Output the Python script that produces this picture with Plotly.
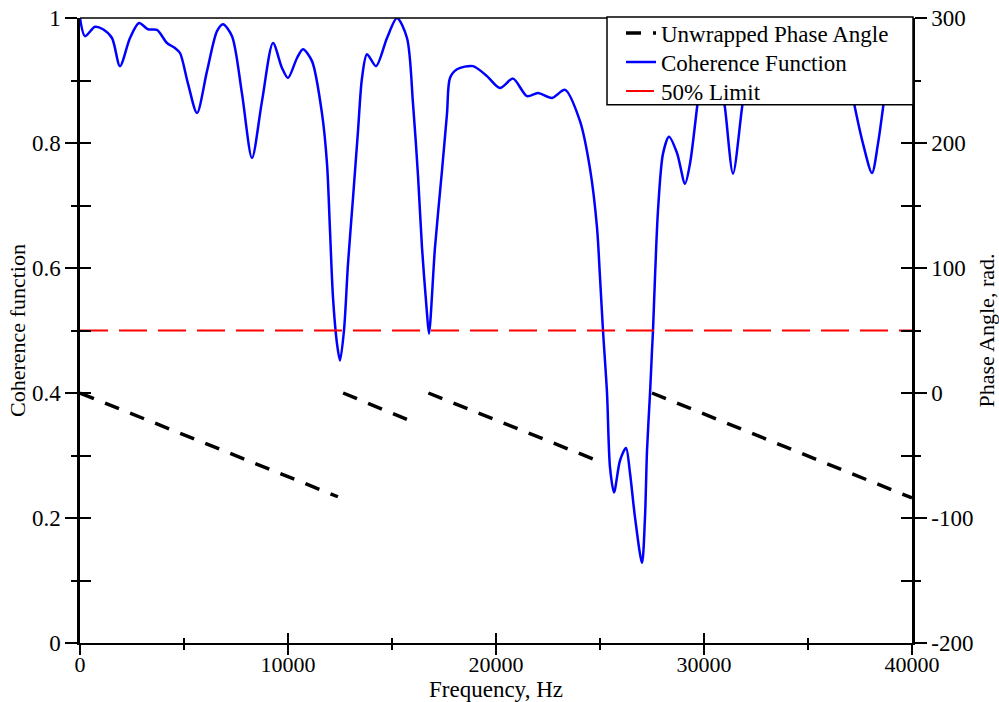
import plotly.graph_objects as go

# ---- data ----
coh_freq = [0, 240, 721, 1106, 1538, 1923, 2404, 2837, 3269, 3702, 4183, 4567, 4808, 5192,
            5625, 6106, 6587, 6875, 7308, 7788, 8269, 8750, 9279, 9712, 10000, 10433, 10721,
            11154, 11635, 11875, 12019, 12163, 12356, 12500, 12692, 12885, 13125, 13365,
            13558, 13798, 14231, 14760, 15240, 15721, 16010, 16250, 16442, 16683, 16779,
            17067, 17404, 17644, 17788, 18125, 18894, 19567, 20192, 20817, 21490, 22019,
            22692, 23317, 24038, 24519, 24856, 25000, 25144, 25337, 25481, 25673, 25962,
            26250, 26442, 26683, 27019, 27163, 27260, 27404, 27500, 27548, 27644, 27788,
            28029, 28317, 28702, 29087, 29327, 29663, 30000, 30337, 30673, 31010, 31394,
            31827, 32212, 33173, 34615, 35577, 36779, 37260, 37644, 38077, 38365, 38606,
            38942, 39423, 40000]
coh_vals = [1.000, 0.971, 0.986, 0.982, 0.968, 0.923, 0.968, 0.992, 0.982, 0.981, 0.960, 0.952,
            0.944, 0.895, 0.848, 0.915, 0.979, 0.990, 0.971, 0.879, 0.776, 0.867, 0.960, 0.920,
            0.904, 0.936, 0.950, 0.931, 0.847, 0.767, 0.660, 0.553, 0.479, 0.452, 0.500, 0.607,
            0.712, 0.819, 0.904, 0.942, 0.923, 0.968, 1.000, 0.968, 0.863, 0.748, 0.633, 0.527,
            0.495, 0.633, 0.756, 0.847, 0.904, 0.918, 0.923, 0.907, 0.888, 0.903, 0.875, 0.880,
            0.872, 0.885, 0.835, 0.759, 0.665, 0.585, 0.500, 0.400, 0.281, 0.241, 0.292, 0.312,
            0.272, 0.201, 0.128, 0.201, 0.308, 0.399, 0.468, 0.500, 0.585, 0.692, 0.783, 0.810,
            0.784, 0.735, 0.767, 0.856, 0.947, 0.971, 0.931, 0.856, 0.751, 0.856, 0.947, 0.979,
            0.955, 0.979, 0.939, 0.856, 0.799, 0.752, 0.799, 0.856, 0.939, 0.971, 0.963]

phase_freq = [0, 12400, None, 12650, 16000, None, 16750, 25150, None, 27500, 40000]
phase_vals = [0, -83, None, 0, -23, None, 0, -56, None, 0, -84]

limit_freq = [0, 40000]
limit_vals = [0.5, 0.5]

x_ticks = [0, 10000, 20000, 30000, 40000]
x_ticktext = ["0", "10000", "20000", "30000", "40000"]
y_ticks = [0, 0.2, 0.4, 0.6, 0.8, 1]
y_ticktext = ["0", "0.2", "0.4", "0.6", "0.8", "1"]
y2_ticks = [-200, -100, 0, 100, 200, 300]
y2_ticktext = ["-200", "-100", "0", "100", "200", "300"]

FONT = "Liberation Serif"

fig = go.Figure()
fig.add_trace(go.Scatter(x=phase_freq, y=phase_vals, yaxis="y2", mode="lines",
                         name="Unwrapped Phase Angle", connectgaps=False, legend="legend",
                         line=dict(color="black", width=3.5, dash="15px,12px")))
fig.add_trace(go.Scatter(x=coh_freq, y=coh_vals, mode="lines", name="Coherence Function",
                         legend="legend2",
                         line=dict(color="#0000ff", width=2.5, shape="spline", smoothing=0.8)))
fig.add_trace(go.Scatter(x=limit_freq, y=limit_vals, mode="lines", name="50% Limit",
                         legend="legend3",
                         line=dict(color="#ff0000", width=2, dash="28px,11px")))
# dummy traces for the inner halves of the crossing ticks
fig.add_trace(go.Scatter(x=[None], y=[None], xaxis="x2", yaxis="y", showlegend=False, hoverinfo="skip"))
fig.add_trace(go.Scatter(x=[None], y=[None], xaxis="x", yaxis="y3", showlegend=False, hoverinfo="skip"))
fig.add_trace(go.Scatter(x=[None], y=[None], xaxis="x", yaxis="y4", showlegend=False, hoverinfo="skip"))

common = dict(showgrid=False, zeroline=False, tickcolor="black", tickwidth=1.5, automargin=False)

# legend box geometry (paper coords of the 832x626 plot area)
box = dict(x0=(607 - 80) / 832, x1=(913 - 80) / 832, y0=(643 - 104) / 626, y1=(643 - 16) / 626)


def leg(row_y):
    return dict(x=(621 - 80) / 832, xanchor="left", y=(643 - row_y) / 626, yanchor="middle",
                bgcolor="rgba(0,0,0,0)", borderwidth=0, font=dict(family=FONT, size=23),
                tracegroupgap=0, itemwidth=30)


fig.update_layout(
    width=999, height=702,
    margin=dict(l=80, r=87, t=17, b=59),
    paper_bgcolor="white", plot_bgcolor="white",
    font=dict(family=FONT, size=23, color="black"),
    xaxis=dict(range=[0, 40000], tickvals=x_ticks, ticktext=x_ticktext, ticks="outside",
               ticklen=10, ticklabelstandoff=-9, tickfont=dict(size=22),
               minor=dict(dtick=5000, ticks="outside", ticklen=5, tickwidth=1.5, tickcolor="black"),
               showline=True, linewidth=2, linecolor="black",
               title=dict(text="Frequency, Hz", standoff=3, font=dict(size=23)), **common),
    xaxis2=dict(range=[0, 40000], overlaying="x", anchor="y", side="bottom", tickvals=x_ticks,
                ticks="inside", ticklen=10, showticklabels=False, showline=False,
                minor=dict(dtick=5000, ticks="inside", ticklen=5, tickwidth=1.5, tickcolor="black"), **common),
    yaxis=dict(range=[0, 1], tickvals=y_ticks, ticktext=y_ticktext, ticks="outside", ticklen=12,
               minor=dict(dtick=0.1, ticks="outside", ticklen=6, tickwidth=1.5, tickcolor="black"),
               showline=True, linewidth=2.5, linecolor="black",
               title=dict(text="Coherence function", standoff=1, font=dict(size=22)), **common),
    yaxis3=dict(range=[0, 1], overlaying="y", anchor="x", side="left", tickvals=y_ticks,
                ticks="inside", ticklen=11, showticklabels=False, showline=False,
                minor=dict(dtick=0.1, ticks="inside", ticklen=11, tickwidth=1.5, tickcolor="black"), **common),
    yaxis2=dict(range=[-200, 300], overlaying="y", anchor="x", side="right", tickvals=y2_ticks,
                ticktext=y2_ticktext, ticks="outside", ticklen=12,
                minor=dict(dtick=50, ticks="outside", ticklen=6, tickwidth=1.5, tickcolor="black"),
                showline=True, linewidth=2.5, linecolor="black",
                title=dict(text="Phase Angle, rad.", standoff=8, font=dict(size=22)), **common),
    yaxis4=dict(range=[-200, 300], overlaying="y", anchor="x", side="right", tickvals=y2_ticks,
                ticks="inside", ticklen=11, showticklabels=False, showline=False,
                minor=dict(dtick=50, ticks="inside", ticklen=11, tickwidth=1.5, tickcolor="black"), **common),
    legend=leg(33),
    legend2=leg(62),
    legend3=leg(91),
    shapes=[
        dict(type="line", xref="paper", yref="paper", x0=0, x1=1, y0=1, y1=1,
             line=dict(color="black", width=1.5)),
        dict(type="rect", xref="paper", yref="paper", layer="above", fillcolor="white",
             line=dict(color="black", width=1.5), **box),
    ],
)

fig.write_html("out.html")
